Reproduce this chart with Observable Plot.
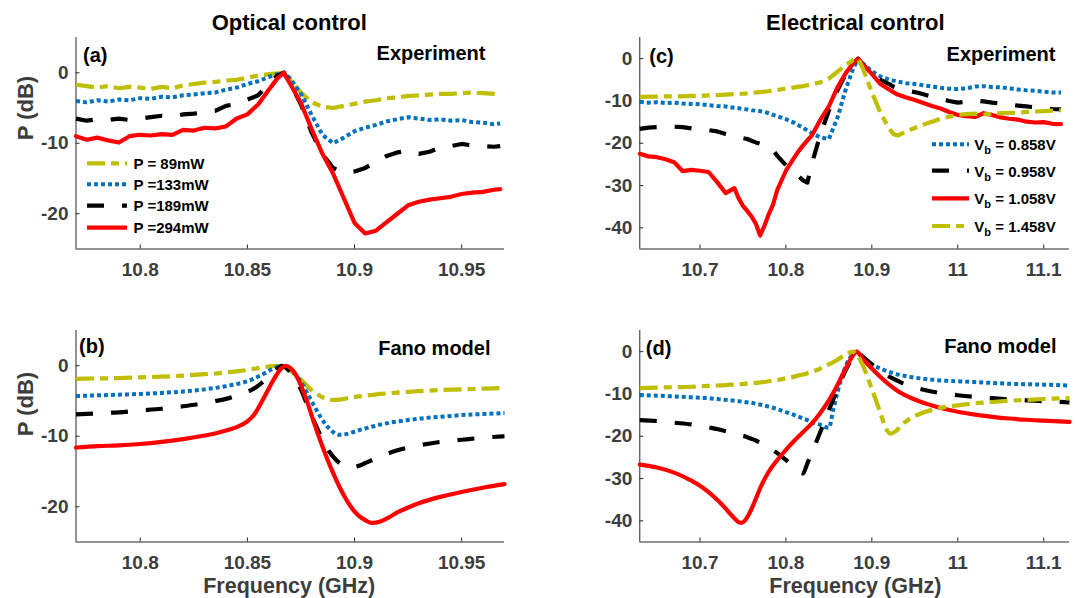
<!DOCTYPE html>
<html><head><meta charset="utf-8">
<script src="https://cdn.jsdelivr.net/npm/d3@7"></script>
<script src="https://cdn.jsdelivr.net/npm/@observablehq/plot@0.6"></script>
<style>
body{margin:0;background:#fff;}
#fig{position:relative;width:1077px;height:598px;overflow:hidden;background:#fff;}
#fig svg{position:absolute;}
</style></head><body><div id="fig"></div>
<script>
// ===== DATA =====
// (a) Optical control - experiment
const freqA = [10.770,10.775,10.780,10.785,10.790,10.795,10.800,10.805,10.810,10.815,10.820,10.825,10.830,10.835,10.840,10.845,10.850,10.855,10.860,10.864,10.867,10.870,10.875,10.880,10.885,10.890,10.895,10.900,10.905,10.910,10.915,10.920,10.925,10.930,10.935,10.940,10.945,10.950,10.955,10.960,10.965,10.968];
const expA89  = [-1.7,-1.9,-2.1,-1.9,-2.2,-2.0,-2.1,-2.3,-2.0,-2.2,-1.8,-1.6,-1.4,-1.3,-1.1,-1.0,-0.7,-0.4,-0.2,-0.1,0,-1.0,-2.8,-4.2,-4.8,-5.0,-4.7,-4.4,-4.1,-3.9,-3.6,-3.5,-3.3,-3.2,-3.1,-3.0,-3.0,-2.9,-2.8,-2.9,-3.0,-3.1];
const expA133 = [-4.0,-4.2,-3.9,-4.1,-3.8,-3.9,-3.6,-3.7,-3.4,-3.5,-3.2,-3.1,-2.9,-2.8,-2.4,-2.1,-1.6,-1.2,-0.6,-0.2,0,-0.8,-3.0,-6.0,-8.8,-10.0,-9.2,-8.3,-7.8,-7.4,-6.9,-6.6,-6.3,-6.5,-6.7,-6.6,-6.8,-6.7,-7.0,-7.1,-7.3,-7.2];
const expA189 = [-6.5,-6.8,-6.6,-6.7,-6.5,-6.7,-6.5,-6.3,-6.1,-6.2,-5.9,-5.8,-5.6,-5.4,-4.7,-4.4,-3.8,-3.2,-1.6,-0.4,0,-1.5,-4.5,-8.5,-11.5,-13.5,-14.2,-14.0,-13.5,-12.6,-11.8,-11.3,-11.1,-11.5,-11.2,-10.6,-10.4,-10.1,-10.3,-10.4,-10.5,-10.4];
const expA294 = [-9.0,-9.5,-9.2,-9.6,-9.9,-9.0,-8.8,-8.9,-8.7,-8.8,-8.1,-8.2,-7.8,-7.9,-7.6,-6.5,-5.9,-4.5,-2.4,-0.8,0,-1.6,-4.3,-8.0,-11.5,-14.3,-17.8,-21.3,-22.8,-22.4,-21.2,-20.0,-18.8,-18.3,-18.0,-17.8,-17.6,-17.2,-17.0,-16.9,-16.6,-16.5];

// (b) Optical control - Fano model
const freqB = [10.770,10.780,10.790,10.800,10.810,10.820,10.830,10.835,10.840,10.845,10.850,10.853,10.856,10.859,10.862,10.864,10.866,10.868,10.870,10.872,10.875,10.878,10.881,10.884,10.887,10.890,10.893,10.896,10.899,10.902,10.905,10.908,10.912,10.916,10.920,10.925,10.930,10.940,10.950,10.960,10.970];
const fanoB89  = [-1.85,-1.8,-1.75,-1.65,-1.55,-1.4,-1.2,-1.1,-0.95,-0.8,-0.6,-0.45,-0.3,-0.15,-0.05,0,-0.05,-0.3,-0.7,-1.2,-2.0,-2.9,-3.7,-4.3,-4.7,-4.85,-4.8,-4.65,-4.5,-4.35,-4.25,-4.15,-4.0,-3.9,-3.8,-3.7,-3.6,-3.45,-3.35,-3.25,-3.15];
const fanoB133 = [-4.3,-4.2,-4.1,-4.0,-3.85,-3.65,-3.35,-3.15,-2.9,-2.6,-2.2,-1.85,-1.4,-0.9,-0.4,-0.15,0,-0.15,-0.5,-1.1,-2.3,-3.9,-5.6,-7.2,-8.5,-9.4,-9.8,-9.7,-9.45,-9.15,-8.9,-8.65,-8.35,-8.1,-7.9,-7.7,-7.5,-7.25,-7.0,-6.85,-6.7];
const fanoB189 = [-6.9,-6.75,-6.6,-6.35,-6.1,-5.75,-5.3,-5.0,-4.7,-4.25,-3.7,-3.25,-2.6,-1.8,-1.0,-0.4,0,-0.3,-0.9,-1.7,-3.4,-5.6,-7.8,-9.8,-11.6,-12.9,-13.8,-14.3,-14.4,-14.2,-13.8,-13.4,-12.9,-12.4,-12.0,-11.6,-11.3,-10.8,-10.5,-10.2,-10.0];
const fanoB294 = [-11.6,-11.4,-11.3,-11.1,-10.8,-10.4,-9.9,-9.6,-9.2,-8.7,-7.9,-7.0,-5.5,-3.8,-2.1,-1.1,-0.3,0,-0.3,-1.0,-2.8,-5.2,-8.0,-10.6,-13.0,-15.2,-17.2,-18.9,-20.3,-21.3,-21.9,-22.3,-22.1,-21.5,-20.8,-20.1,-19.5,-18.6,-17.9,-17.3,-16.8];

// (c) Electrical control - experiment
const freqC = [10.630,10.640,10.650,10.660,10.670,10.680,10.690,10.700,10.710,10.720,10.730,10.740,10.745,10.750,10.755,10.760,10.765,10.770,10.775,10.780,10.785,10.790,10.800,10.810,10.815,10.820,10.825,10.830,10.840,10.850,10.860,10.870,10.878,10.884,10.890,10.900,10.910,10.920,10.925,10.930,10.940,10.950,10.960,10.970,10.980,10.990,11.000,11.010,11.020,11.030,11.040,11.050,11.060,11.070,11.080,11.090,11.100,11.110,11.120];
const expC0858 = [-10.2,-10.4,-10.3,-10.5,-10.4,-10.6,-10.7,-10.8,-11.0,-11.2,-11.3,-11.6,-11.7,-11.9,-12.0,-12.2,-12.3,-12.4,-12.6,-12.9,-13.3,-13.6,-14.3,-15.2,-15.8,-16.3,-17.0,-17.6,-18.6,-19.0,-14.0,-7.0,-2.5,0,-1.2,-3.0,-4.2,-4.9,-5.2,-5.4,-5.8,-6.0,-6.3,-6.6,-6.9,-7.1,-7.2,-7.0,-6.6,-6.5,-6.7,-6.8,-7.0,-7.3,-7.5,-7.6,-7.8,-8.0,-8.0];
const expC0958 = [-16.6,-16.3,-16.2,-16.0,-16.1,-16.2,-16.5,-16.8,-16.9,-17.2,-17.8,-18.3,-18.5,-18.8,-19.0,-19.4,-19.8,-20.1,-20.4,-20.8,-21.6,-23.0,-25.2,-27.0,-27.8,-28.8,-29.3,-25.0,-18.0,-12.3,-7.5,-3.5,-1.2,0,-1.5,-3.5,-5.0,-6.0,-6.6,-7.0,-7.6,-7.9,-8.4,-9.0,-9.5,-10.0,-10.4,-10.2,-9.9,-10.1,-10.4,-10.6,-10.9,-11.1,-11.3,-11.5,-11.7,-11.9,-12.0];
const expC1058 = [-22.5,-23.1,-23.3,-23.8,-24.5,-26.6,-26.3,-26.5,-26.8,-29.2,-31.8,-30.6,-33.0,-34.8,-36.0,-37.3,-39.0,-41.8,-39.5,-36.8,-34.5,-31.0,-26.5,-23.3,-21.8,-20.5,-19.3,-18.2,-14.5,-11.3,-6.8,-3.3,-1.2,0,-1.5,-3.6,-6.0,-7.3,-7.9,-8.5,-9.2,-9.8,-10.5,-11.2,-11.8,-12.6,-13.3,-13.6,-13.8,-12.9,-13.3,-13.9,-14.2,-14.4,-14.9,-15.1,-15.0,-15.4,-15.5];
const expC1458 = [-9.1,-9.0,-9.0,-8.9,-8.9,-8.9,-8.8,-8.8,-8.7,-8.6,-8.5,-8.4,-8.3,-8.3,-8.2,-8.1,-8.0,-7.9,-7.8,-7.7,-7.5,-7.4,-7.1,-6.8,-6.6,-6.5,-6.3,-6.1,-5.6,-4.7,-3.1,-1.5,-0.4,0,-2.5,-8.0,-12.8,-16.5,-17.8,-18.2,-17.2,-16.4,-15.6,-14.9,-14.2,-13.7,-13.3,-13.1,-13.0,-13.2,-13.0,-12.9,-12.8,-12.8,-12.6,-12.5,-12.4,-12.3,-12.2];

// (d) Electrical control - Fano model
const freqD = [10.630,10.650,10.670,10.690,10.700,10.710,10.720,10.730,10.735,10.740,10.745,10.748,10.752,10.756,10.760,10.765,10.770,10.780,10.790,10.800,10.810,10.815,10.820,10.825,10.830,10.840,10.850,10.855,10.860,10.870,10.878,10.882,10.890,10.900,10.910,10.916,10.922,10.928,10.935,10.945,10.960,10.980,11.000,11.020,11.040,11.060,11.080,11.100,11.130];
const fanoD0858 = [-10.3,-10.4,-10.6,-10.8,-10.9,-11.0,-11.2,-11.4,-11.5,-11.6,-11.7,-11.8,-11.9,-12.0,-12.1,-12.3,-12.5,-13.0,-13.6,-14.3,-15.0,-15.4,-15.8,-16.2,-16.7,-17.3,-18.0,-13.8,-9.6,-3.2,-0.6,0,-1.5,-3.0,-4.0,-4.5,-4.9,-5.3,-5.6,-6.0,-6.4,-6.8,-7.0,-7.2,-7.4,-7.6,-7.7,-7.8,-8.0];
const fanoD0958 = [-16.2,-16.4,-16.8,-17.2,-17.5,-17.9,-18.3,-18.8,-19.0,-19.3,-19.6,-19.8,-20.0,-20.3,-20.6,-21.0,-21.5,-22.6,-24.0,-25.6,-27.4,-28.4,-28.8,-26.4,-24.0,-19.0,-13.8,-11.3,-8.8,-4.2,-1.2,0,-1.3,-3.0,-4.6,-5.4,-6.1,-6.7,-7.4,-8.2,-9.0,-9.8,-10.3,-10.7,-11.0,-11.3,-11.5,-11.7,-12.0];
const fanoD1058 = [-26.7,-27.4,-28.6,-30.5,-31.7,-33.2,-35.0,-37.1,-38.3,-39.4,-40.3,-40.5,-40.0,-38.8,-37.2,-34.8,-32.3,-28.4,-25.6,-23.2,-21.0,-20.0,-19.0,-18.0,-17.0,-14.5,-11.5,-9.8,-7.9,-3.8,-0.9,0,-1.8,-4.0,-6.0,-7.1,-8.1,-9.0,-9.9,-10.9,-12.1,-13.3,-14.2,-14.9,-15.4,-15.8,-16.1,-16.3,-16.6];
const fanoD1458 = [-8.6,-8.5,-8.4,-8.3,-8.2,-8.1,-8.0,-7.9,-7.8,-7.8,-7.7,-7.7,-7.6,-7.5,-7.5,-7.4,-7.3,-7.0,-6.7,-6.3,-5.9,-5.6,-5.4,-5.1,-4.8,-4.0,-3.0,-2.5,-1.9,-0.6,0,-0.6,-3.5,-8.8,-14.5,-18.0,-19.4,-18.8,-17.3,-15.7,-14.4,-13.3,-12.7,-12.2,-11.9,-11.6,-11.4,-11.2,-11.0];

// ticks & labels
const xTicksOptical = [10.8, 10.85, 10.9, 10.95];
const xTicksElectrical = [10.7, 10.8, 10.9, 11, 11.1];
const yTicksOptical = [0, -10, -20];
const yTicksElectrical = [0, -10, -20, -30, -40];
const powerLabels = ["P = 89mW", "P =133mW", "P =189mW", "P =294mW"];
const biasLabels = ["0.858V", "0.958V", "1.058V", "1.458V"];

// ===== STYLE =====
const FONT = '"Liberation Sans", Arial, Helvetica, sans-serif';
const AX = "#262626", TK = "#3d3d3d";
const STY = {
  yellow: {color: "#bfbf00", width: 4.2, dash: "18,6,8,6"},
  blue:   {color: "#0072bd", width: 4, dash: "4,3"},
  black:  {color: "#000000", width: 4.2, dash: "17,18"},
  red:    {color: "#ff0000", width: 4.2, dash: null}
};

const fig = document.getElementById("fig");

function panel(o) {
  const [bx, by, bw, bh] = o.box;
  const [fx1, fy1, fx2, fy2] = o.frame;
  const pw = fx2 - fx1, ph = fy2 - fy1;
  const marks = [
    Plot.ruleX([o.xDomain[0]], {stroke: AX, strokeWidth: 1}),
    Plot.ruleY([o.yDomain[0]], {stroke: AX, strokeWidth: 1}),
    Plot.ruleX(o.xTicks, {insetTop: ph - 4, stroke: AX}),
    Plot.ruleY(o.yTicks, {insetRight: pw - 4, stroke: AX}),
    Plot.axisX(o.xTicks, {tickSize: 0, tickPadding: 13, tickFormat: d => String(d), fontSize: 19, color: TK, label: null}),
    Plot.axisY(o.yTicks, {tickSize: 0, tickPadding: 7.5, tickFormat: d => String(d), fontSize: 19, color: TK, label: null})
  ];
  for (const s of o.series) {
    const rows = o.freq.map((f, i) => ({f, p: s.values[i]}));
    marks.push(Plot.line(rows, {
      x: "f", y: "p", stroke: s.style.color, strokeWidth: s.style.width,
      strokeDasharray: s.style.dash || undefined,
      strokeLinecap: s.style.dash ? "butt" : "round", strokeLinejoin: "round",
      curve: o.curve
    }));
  }
  marks.push(Plot.text([o.tag], {text: d => d, frameAnchor: "top-left", dx: o.tagPos[0], dy: o.tagPos[1], lineAnchor: "top", textAnchor: "start", fontSize: 20, fill: "#000"}));
  marks.push(Plot.text([o.note], {text: d => d, frameAnchor: "top-right", dx: o.notePos[0], dy: o.notePos[1], lineAnchor: "top", textAnchor: "end", fontSize: 20, fill: "#000"}));
  if (o.title) marks.push(Plot.text([o.title], {text: d => d, frameAnchor: "top", dx: o.titlePos[0], dy: o.titlePos[1], lineAnchor: "top", fontSize: 22, fill: "#000"}));
  if (o.yLabel) marks.push(Plot.text([o.yLabel], {text: d => d, frameAnchor: "left", dx: o.yLabelPos[0], dy: o.yLabelPos[1], rotate: -90, lineAnchor: "middle", fontSize: 22, fill: TK}));
  if (o.xLabel) marks.push(Plot.text([o.xLabel], {text: d => d, frameAnchor: "bottom", dx: o.xLabelPos[0], dy: o.xLabelPos[1], lineAnchor: "top", fontSize: 21.5, fill: TK}));

  const svg = Plot.plot({
    width: bw, height: bh,
    marginLeft: fx1 - bx, marginTop: fy1 - by, marginRight: bx + bw - fx2, marginBottom: by + bh - fy2,
    x: {domain: o.xDomain}, y: {domain: o.yDomain},
    style: {fontFamily: FONT, fontWeight: "bold", overflow: "visible", background: "transparent"},
    marks
  });
  svg.style.position = "absolute";
  svg.style.left = bx + "px";
  svg.style.top = by + "px";
  fig.appendChild(svg);
}

const LEFT = [0, 540], RIGHT = [540, 537];
const TOP = [0, 300], BOTTOM = [300, 298];

panel({
  box: [LEFT[0], TOP[0], LEFT[1], TOP[1]], frame: [75.5, 37, 504, 248.5],
  xDomain: [10.77, 10.97], yDomain: [-25, 5], xTicks: xTicksOptical, yTicks: yTicksOptical,
  freq: freqA, curve: "linear",
  series: [{values: expA89, style: STY.yellow}, {values: expA133, style: STY.blue}, {values: expA189, style: STY.black}, {values: expA294, style: STY.red}],
  tag: "(a)", tagPos: [7, 9.8], note: "Experiment", notePos: [-19, 7.8],
  title: "Optical control", titlePos: [-1, -23.3],
  yLabel: "P (dB)", yLabelPos: [-50.5, -3]
});
panel({
  box: [LEFT[0], BOTTOM[0], LEFT[1], BOTTOM[1]], frame: [75.5, 330, 504, 541.5],
  xDomain: [10.77, 10.97], yDomain: [-25, 5], xTicks: xTicksOptical, yTicks: yTicksOptical,
  freq: freqB, curve: "monotone-x",
  series: [{values: fanoB89, style: STY.yellow}, {values: fanoB133, style: STY.blue}, {values: fanoB189, style: STY.black}, {values: fanoB294, style: STY.red}],
  tag: "(b)", tagPos: [3, 8.3], note: "Fano model", notePos: [-14, 9.8],
  yLabel: "P (dB)", yLabelPos: [-50.5, 0],
  xLabel: "Frequency (GHz)", xLabelPos: [-1, 35.6]
});
panel({
  box: [RIGHT[0], TOP[0], RIGHT[1], TOP[1]], frame: [639.3, 37, 1069, 248.5],
  xDomain: [10.63, 11.13], yDomain: [-45, 5], xTicks: xTicksElectrical, yTicks: yTicksElectrical,
  freq: freqC, curve: "linear",
  series: [{values: expC0858, style: STY.blue}, {values: expC0958, style: STY.black}, {values: expC1058, style: STY.red}, {values: expC1458, style: STY.yellow}],
  tag: "(c)", tagPos: [9.5, 10.8], note: "Experiment", notePos: [-14, 9.3],
  title: "Electrical control", titlePos: [0.7, -23.3]
});
panel({
  box: [RIGHT[0], BOTTOM[0], RIGHT[1], BOTTOM[1]], frame: [639.3, 330, 1069, 541.5],
  xDomain: [10.63, 11.13], yDomain: [-45, 5], xTicks: xTicksElectrical, yTicks: yTicksElectrical,
  freq: freqD, curve: "monotone-x",
  series: [{values: fanoD0858, style: STY.blue}, {values: fanoD0958, style: STY.black}, {values: fanoD1058, style: STY.red}, {values: fanoD1458, style: STY.yellow}],
  tag: "(d)", tagPos: [6, 9.8], note: "Fano model", notePos: [-13, 7.8],
  xLabel: "Frequency (GHz)", xLabelPos: [0.7, 35.6]
});

// ===== LEGENDS =====
const ov = d3.select(fig).append("svg")
  .attr("width", 1077).attr("height", 598)
  .style("left", "0px").style("top", "0px")
  .style("font-family", FONT).style("font-weight", "bold");

function legend(labels, styles, x1, x2, xt, ys, sub) {
  labels.forEach((lab, i) => {
    const s = styles[i];
    ov.append("line").attr("x1", x1).attr("x2", x2).attr("y1", ys[i]).attr("y2", ys[i])
      .attr("stroke", s.color).attr("stroke-width", s.width)
      .attr("stroke-dasharray", s.dash || null).attr("stroke-linecap", "butt");
    const t = ov.append("text").attr("x", xt).attr("y", ys[i])
      .attr("dominant-baseline", "central").attr("font-size", 15).attr("fill", "#000");
    if (sub) {
      t.append("tspan").text("V");
      t.append("tspan").attr("dy", 6).attr("font-size", 11).text("b");
      t.append("tspan").attr("dy", -6).text(" = " + lab);
    } else {
      t.text(lab);
    }
  });
}
legend(powerLabels, [STY.yellow, STY.blue, STY.black, STY.red], 87, 127, 133.5, [163.3, 184.3, 205.7, 227.7], false);
legend(biasLabels, [STY.blue, STY.black, STY.red, STY.yellow], 932, 969, 974.3, [144.3, 170.7, 198.3, 226], true);
</script>
</body></html>
